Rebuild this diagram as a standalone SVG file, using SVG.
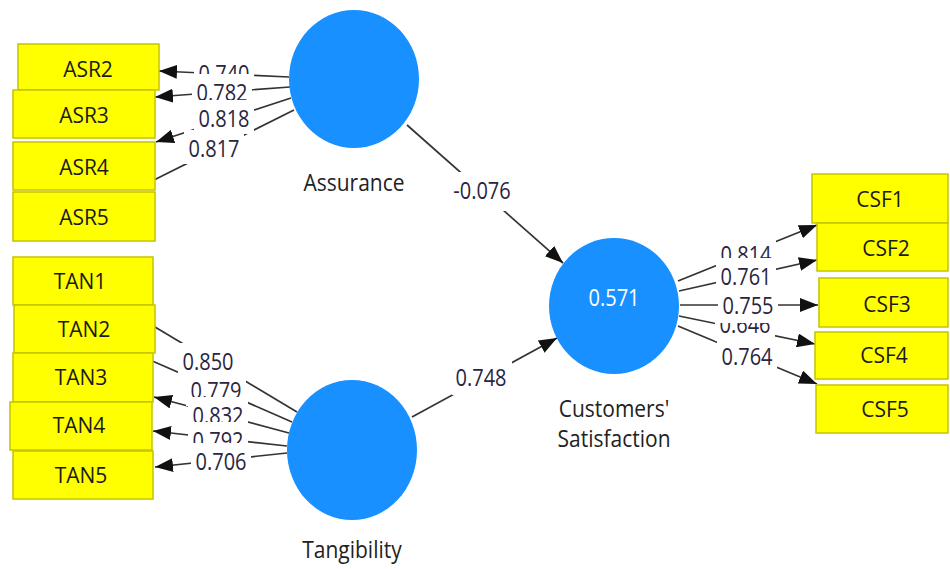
<svg xmlns="http://www.w3.org/2000/svg" width="950" height="569" viewBox="0 0 950 569">
<style>
.ln{stroke:#333;stroke-width:1.7;fill:none}
.ar{marker-end:url(#arr)}
.box{fill:#ffff00;stroke:#c4c400;stroke-width:1.5}
.bt{font-family:"Open Sans","Noto Sans",sans-serif;font-size:21px;fill:#1a1a1a;text-anchor:middle}
.lv{font-family:"Open Sans","Noto Sans",sans-serif;font-size:20px;fill:#2a2540;text-anchor:middle}
.lb{fill:#fff}
.cir{fill:#1890ff}
.nt{font-family:"Open Sans","Noto Sans",sans-serif;font-size:21px;fill:#222;text-anchor:middle}
.wt{font-family:"Open Sans","Noto Sans",sans-serif;font-size:20px;fill:#fff;text-anchor:middle}
</style>
<defs>
<marker id="arr" markerUnits="userSpaceOnUse" markerWidth="18" markerHeight="14" refX="18" refY="7" orient="auto">
<path d="M0,0 L18,7 L0,14 z" fill="#111"/>
</marker>
</defs>
<rect width="950" height="569" fill="#fff"/>
<g id="connectors">
<line class="ln ar" x1="289" y1="77" x2="159" y2="71"/>
<line class="ln ar" x1="290" y1="87" x2="155" y2="97"/>
<line class="ln ar" x1="291" y1="98" x2="156" y2="142"/>
<line class="ln" x1="294" y1="110" x2="150" y2="182"/>
<line class="ln" x1="297" y1="412" x2="150" y2="324"/>
<line class="ln" x1="292" y1="422" x2="150" y2="360"/>
<line class="ln ar" x1="289" y1="433" x2="154" y2="397"/>
<line class="ln ar" x1="287" y1="446" x2="153" y2="431"/>
<line class="ln ar" x1="287" y1="453" x2="155" y2="467"/>
<line class="ln ar" x1="678" y1="281" x2="817" y2="225"/>
<line class="ln ar" x1="679" y1="291" x2="817" y2="260"/>
<line class="ln ar" x1="680" y1="305" x2="818" y2="305"/>
<line class="ln ar" x1="679" y1="316" x2="815" y2="344"/>
<line class="ln ar" x1="678" y1="326" x2="817" y2="384"/>
<line class="ln ar" x1="407" y1="125" x2="563" y2="263"/>
<line class="ln ar" x1="412" y1="417" x2="557" y2="338"/>
</g>
<g id="assurance"><ellipse class="cir" cx="354" cy="79" rx="65" ry="69"/><text class="nt" transform="translate(354,191) scale(1,1.12)">Assurance</text></g>
<g id="tangibility"><ellipse class="cir" cx="352" cy="450" rx="65" ry="70"/><text class="nt" transform="translate(352,558) scale(1,1.12)">Tangibility</text></g>
<g id="customers-satisfaction"><ellipse class="cir" cx="614" cy="306" rx="65" ry="68"/><text class="wt" transform="translate(614,306) scale(1,1.15)">0.571</text><text class="nt" transform="translate(614,417) scale(1,1.12)">Customers'</text><text class="nt" transform="translate(614,447) scale(1,1.12)">Satisfaction</text></g>
<g id="ASR2"><rect class="box" x="18" y="44" width="141" height="46"/><text class="bt" transform="translate(88,77) scale(1,1.05)">ASR2</text></g>
<g id="ASR3"><rect class="box" x="13" y="90" width="142" height="48"/><text class="bt" transform="translate(84,123) scale(1,1.05)">ASR3</text></g>
<g id="ASR4"><rect class="box" x="13" y="142" width="142" height="48"/><text class="bt" transform="translate(84,175) scale(1,1.05)">ASR4</text></g>
<g id="ASR5"><rect class="box" x="13" y="192" width="142" height="49"/><text class="bt" transform="translate(84,225) scale(1,1.05)">ASR5</text></g>
<g id="TAN1"><rect class="box" x="13" y="257" width="140" height="48"/><text class="bt" transform="translate(80,289) scale(1,1.05)">TAN1</text></g>
<g id="TAN2"><rect class="box" x="14" y="305" width="141" height="48"/><text class="bt" transform="translate(84,337) scale(1,1.05)">TAN2</text></g>
<g id="TAN3"><rect class="box" x="13" y="353" width="140" height="49"/><text class="bt" transform="translate(81,385) scale(1,1.05)">TAN3</text></g>
<g id="TAN4"><rect class="box" x="10" y="402" width="142" height="48"/><text class="bt" transform="translate(79,433) scale(1,1.05)">TAN4</text></g>
<g id="TAN5"><rect class="box" x="13" y="451" width="140" height="48"/><text class="bt" transform="translate(81,483) scale(1,1.05)">TAN5</text></g>
<g id="CSF1"><rect class="box" x="812" y="174" width="136" height="49"/><text class="bt" transform="translate(880,207) scale(1,1.05)">CSF1</text></g>
<g id="CSF2"><rect class="box" x="817" y="223" width="131" height="48"/><text class="bt" transform="translate(886,256) scale(1,1.05)">CSF2</text></g>
<g id="CSF3"><rect class="box" x="819" y="278" width="129" height="49"/><text class="bt" transform="translate(887,312) scale(1,1.05)">CSF3</text></g>
<g id="CSF4"><rect class="box" x="815" y="332" width="133" height="47"/><text class="bt" transform="translate(884,363) scale(1,1.05)">CSF4</text></g>
<g id="CSF5"><rect class="box" x="816" y="385" width="132" height="48"/><text class="bt" transform="translate(885,417) scale(1,1.05)">CSF5</text></g>
<g id="connector-labels">
<rect class="lb" x="194" y="55" width="60" height="34"/><text class="lv" transform="translate(224,81.5) scale(1,1.15)">0.740</text>
<rect class="lb" x="192" y="74" width="60" height="34"/><text class="lv" transform="translate(222,100.5) scale(1,1.15)">0.782</text>
<rect class="lb" x="194" y="100" width="60" height="34"/><text class="lv" transform="translate(224,126.5) scale(1,1.15)">0.818</text>
<rect class="lb" x="184" y="130" width="60" height="34"/><text class="lv" transform="translate(214,156.5) scale(1,1.15)">0.817</text>
<rect class="lb" x="178" y="343" width="60" height="34"/><text class="lv" transform="translate(208,369.5) scale(1,1.15)">0.850</text>
<rect class="lb" x="186" y="372" width="60" height="34"/><text class="lv" transform="translate(216,398.5) scale(1,1.15)">0.779</text>
<rect class="lb" x="188" y="397" width="60" height="34"/><text class="lv" transform="translate(218,423.5) scale(1,1.15)">0.832</text>
<rect class="lb" x="188" y="422" width="60" height="34"/><text class="lv" transform="translate(218,448.5) scale(1,1.15)">0.792</text>
<rect class="lb" x="191" y="443" width="60" height="34"/><text class="lv" transform="translate(221,469.5) scale(1,1.15)">0.706</text>
<rect class="lb" x="716" y="236" width="60" height="34"/><text class="lv" transform="translate(746,262.5) scale(1,1.15)">0.814</text>
<rect class="lb" x="716" y="258" width="60" height="34"/><text class="lv" transform="translate(746,284.5) scale(1,1.15)">0.761</text>
<rect class="lb" x="715" y="307" width="60" height="34"/><text class="lv" transform="translate(745,333) scale(1,1.15)">0.646</text>
<rect class="lb" x="718" y="287" width="60" height="36"/><text class="lv" transform="translate(748,313.5) scale(1,1.15)">0.755</text>
<rect class="lb" x="717" y="338" width="60" height="34"/><text class="lv" transform="translate(747,364.5) scale(1,1.15)">0.764</text>
<rect class="lb" x="449" y="172" width="66" height="39"/><text class="lv" transform="translate(482,199) scale(1,1.15)">-0.076</text>
<rect class="lb" x="452" y="358" width="60" height="37"/><text class="lv" transform="translate(481,386) scale(1,1.15)">0.748</text>
</g>
</svg>
